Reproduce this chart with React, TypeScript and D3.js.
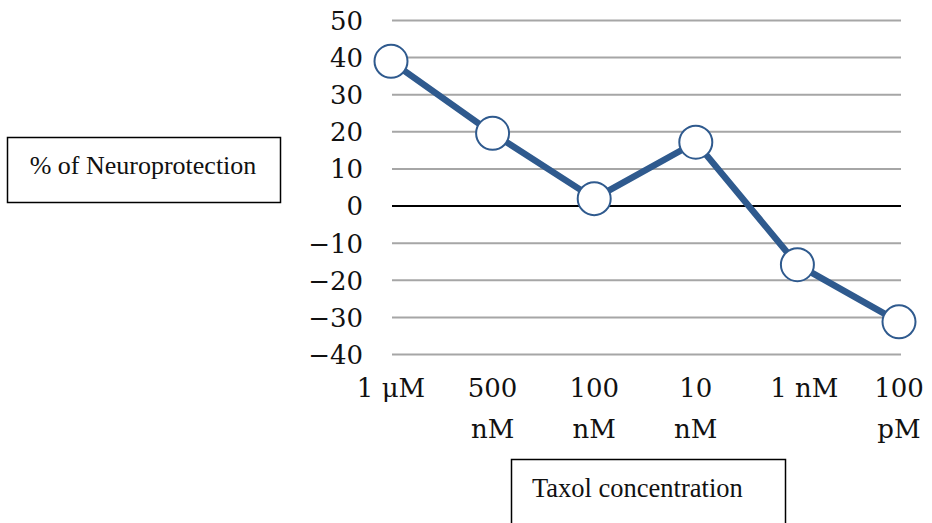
import React from "react";
import * as d3 from "d3";

const categories: string[] = ["1 μM", "500 nM", "100 nM", "10 nM", "1 nM", "100 pM"];
const categoryLines: string[][] = [["1 μM"], ["500", "nM"], ["100", "nM"], ["10", "nM"], ["1 nM"], ["100", "pM"]];
const neuroprotection: number[] = [39, 19.6, 2, 17.2, -15.8, -31.2];
const yTicks: number[] = [50, 40, 30, 20, 10, 0, -10, -20, -30, -40];
const yAxisTitle = "% of Neuroprotection";
const xAxisTitle = "Taxol concentration";

const W = 932;
const H = 523;

export default function App() {
  const x = d3.scalePoint<string>().domain(categories).range([391, 899]);
  const y = d3.scaleLinear().domain([-40, 50]).range([354.5, 20.5]);
  const line = d3
    .line<number>()
    .x((_, i) => x(categories[i]) as number)
    .y((d) => y(d));
  const tickFmt = (v: number) => (v < 0 ? "−" + Math.abs(v) : String(v));
  const serif = "'DejaVu Serif', serif";
  const times = "'Liberation Serif', 'Times New Roman', serif";

  return (
    <svg
      width={W}
      height={H}
      style={{ position: "absolute", left: 0, top: 0, background: "#fff" }}
    >
      <rect x={0} y={0} width={W} height={H} fill="#fff" />
      {yTicks.map((t) => (
        <line
          key={"g" + t}
          x1={392}
          x2={901}
          y1={y(t)}
          y2={y(t)}
          stroke={t === 0 ? "#000" : "#A6A6A6"}
          strokeWidth={2}
        />
      ))}
      {yTicks.map((t) => (
        <text
          key={"t" + t}
          x={363}
          y={y(t)}
          dy="0.36em"
          textAnchor="end"
          fontFamily={serif}
          fontSize={26}
          fill="#111"
        >
          {tickFmt(t)}
        </text>
      ))}
      {categoryLines.map((lines, i) =>
        lines.map((ln, j) => (
          <text
            key={"x" + i + "-" + j}
            x={(x(categories[i]) as number) + (i === 4 ? 7 : 0)}
            y={388 + j * 41}
            dy="0.36em"
            textAnchor="middle"
            fontFamily={serif}
            fontSize={26}
            fill="#111"
          >
            {ln}
          </text>
        ))
      )}
      <path
        d={line(neuroprotection) || ""}
        fill="none"
        stroke="#2F5A8E"
        strokeWidth={6.5}
        strokeLinejoin="round"
      />
      {neuroprotection.map((v, i) => (
        <circle
          key={"c" + i}
          cx={x(categories[i]) as number}
          cy={y(v)}
          r={16.5}
          fill="#fff"
          stroke="#2F5A8E"
          strokeWidth={2}
        />
      ))}
      <rect x={7.5} y={137.5} width={273} height={65} fill="#fff" stroke="#000" strokeWidth={1.5} />
      <text x={143} y={165} dy="0.35em" textAnchor="middle" fontFamily={times} fontSize={26} fill="#111">
        {yAxisTitle}
      </text>
      <rect x={511.5} y={459.5} width={274} height={70} fill="#fff" stroke="#000" strokeWidth={1.5} />
      <text x={532} y={488} dy="0.35em" fontFamily={times} fontSize={26.5} fill="#111">
        {xAxisTitle}
      </text>
    </svg>
  );
}
